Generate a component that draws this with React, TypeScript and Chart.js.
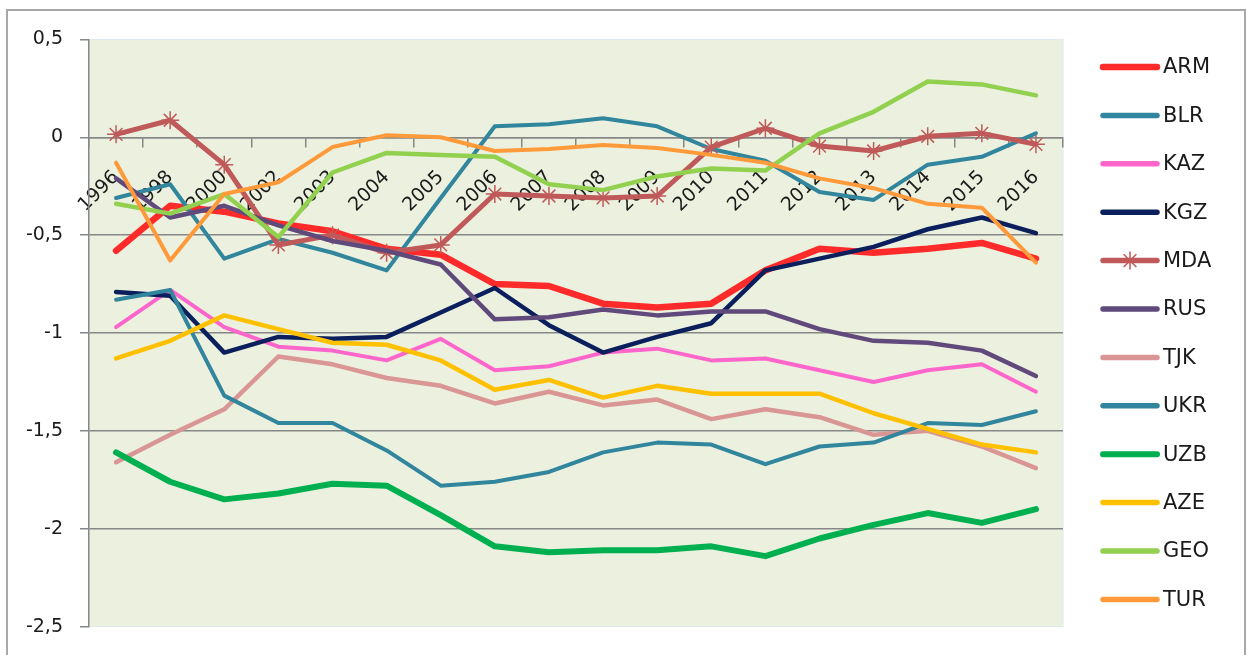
import { useEffect, useRef } from 'react';
import { Chart, registerables } from 'chart.js';

Chart.register(...registerables);

const years = ['1996', '1998', '2000', '2002', '2003', '2004', '2005', '2006', '2007', '2008', '2009', '2010', '2011', '2012', '2013', '2014', '2015', '2016'];

const ARM = [-0.58, -0.35, -0.38, -0.44, -0.48, -0.57, -0.6, -0.75, -0.76, -0.85, -0.87, -0.85, -0.68, -0.57, -0.59, -0.57, -0.54, -0.62];
const BLR = [-0.31, -0.24, -0.62, -0.52, -0.59, -0.68, -0.31, 0.056, 0.066, 0.097, 0.056, -0.06, -0.12, -0.28, -0.32, -0.14, -0.1, 0.02];
const KAZ = [-0.97, -0.78, -0.97, -1.07, -1.09, -1.14, -1.03, -1.19, -1.17, -1.1, -1.08, -1.14, -1.13, -1.19, -1.25, -1.19, -1.16, -1.3];
const KGZ = [-0.79, -0.81, -1.1, -1.02, -1.03, -1.02, -0.895, -0.77, -0.96, -1.1, -1.02, -0.95, -0.68, -0.62, -0.56, -0.47, -0.41, -0.49];
const MDA = [0.015, 0.087, -0.14, -0.55, -0.5, -0.59, -0.55, -0.29, -0.3, -0.31, -0.3, -0.05, 0.046, -0.045, -0.07, 0.005, 0.02, -0.036];
const RUS = [-0.21, -0.41, -0.35, -0.45, -0.53, -0.58, -0.65, -0.93, -0.92, -0.88, -0.91, -0.89, -0.89, -0.98, -1.04, -1.05, -1.09, -1.22];
const TJK = [-1.66, -1.52, -1.39, -1.12, -1.16, -1.23, -1.27, -1.36, -1.3, -1.37, -1.34, -1.44, -1.39, -1.43, -1.52, -1.5, -1.58, -1.69];
const UKR = [-0.83, -0.78, -1.32, -1.46, -1.46, -1.6, -1.78, -1.76, -1.71, -1.61, -1.56, -1.57, -1.67, -1.58, -1.56, -1.46, -1.47, -1.4];
const UZB = [-1.61, -1.76, -1.85, -1.82, -1.77, -1.78, -1.93, -2.09, -2.12, -2.11, -2.11, -2.09, -2.14, -2.05, -1.98, -1.92, -1.97, -1.9];
const AZE = [-1.13, -1.04, -0.91, -0.98, -1.05, -1.06, -1.14, -1.29, -1.24, -1.33, -1.27, -1.31, -1.31, -1.31, -1.41, -1.49, -1.57, -1.61];
const GEO = [-0.34, -0.39, -0.29, -0.51, -0.18, -0.08, -0.09, -0.1, -0.24, -0.27, -0.2, -0.16, -0.17, 0.02, 0.13, 0.285, 0.27, 0.214];
const TUR = [-0.13, -0.63, -0.29, -0.23, -0.05, 0.01, 0.0, -0.07, -0.06, -0.04, -0.055, -0.09, -0.13, -0.21, -0.26, -0.34, -0.36, -0.64];

const seriesNames = ['ARM', 'BLR', 'KAZ', 'KGZ', 'MDA', 'RUS', 'TJK', 'UKR', 'UZB', 'AZE', 'GEO', 'TUR'];
const seriesValues = [ARM, BLR, KAZ, KGZ, MDA, RUS, TJK, UKR, UZB, AZE, GEO, TUR];
const seriesColors = ['#FF2B2B', '#31859C', '#FF66CC', '#0A1F5C', '#C05A5A', '#604A7B', '#D99694', '#31859C', '#00B050', '#FFC000', '#92D050', '#FF9A3A'];
const seriesWidths = [6.5, 4, 4, 4.5, 5, 4.5, 4.5, 4, 6, 4.5, 4.5, 4];

const yTicks = [0.5, 0, -0.5, -1, -1.5, -2, -2.5];

const GRID = '#878787';
const FONT = 'DejaVu Sans';

function drawStar(ctx: CanvasRenderingContext2D, x: number, y: number, r: number) {
  const d = r * Math.SQRT1_2;
  ctx.beginPath();
  ctx.moveTo(x - r, y); ctx.lineTo(x + r, y);
  ctx.moveTo(x, y - r); ctx.lineTo(x, y + r);
  ctx.moveTo(x - d, y - d); ctx.lineTo(x + d, y + d);
  ctx.moveTo(x - d, y + d); ctx.lineTo(x + d, y - d);
  ctx.stroke();
}

const bgPlugin = {
  id: 'plotBg',
  beforeDraw(chart: any) {
    const { ctx, chartArea } = chart;
    ctx.save();
    ctx.fillStyle = '#EBF1DE';
    ctx.fillRect(chartArea.left, chartArea.top, chartArea.right - chartArea.left, chartArea.bottom - chartArea.top);
    ctx.strokeStyle = '#DCE9EE';
    ctx.lineWidth = 1;
    ctx.strokeRect(chartArea.left, chartArea.top, chartArea.right - chartArea.left, chartArea.bottom - chartArea.top);
    ctx.restore();
  },
};

const legendPlugin = {
  id: 'sideLegend',
  afterDraw(chart: any) {
    const ctx = chart.ctx as CanvasRenderingContext2D;
    const x1 = 1095;
    const x2 = 1149;
    const top = 56;
    const step = 48.4;
    chart.data.datasets.forEach((ds: any, i: number) => {
      const y = top + i * step;
      ctx.save();
      ctx.strokeStyle = ds.borderColor;
      ctx.lineWidth = Math.max(5.5, ds.borderWidth);
      ctx.lineCap = 'round';
      ctx.beginPath();
      ctx.moveTo(x1, y);
      ctx.lineTo(x2, y);
      ctx.stroke();
      if (ds.pointStyle === 'star') {
        ctx.lineWidth = 1.5;
        ctx.lineCap = 'butt';
        drawStar(ctx, (x1 + x2) / 2, y, 9);
      }
      ctx.fillStyle = '#1a1a1a';
      ctx.font = `21px "${FONT}"`;
      ctx.textBaseline = 'middle';
      ctx.textAlign = 'left';
      ctx.fillText(ds.label, 1155, y + 1);
      ctx.restore();
    });
  },
};

export default function App() {
  const ref = useRef<HTMLCanvasElement | null>(null);

  useEffect(() => {
    if (!ref.current) return;
    const datasets = seriesNames.map((name, i) => {
      const isStar = name === 'MDA';
      return {
        label: name,
        data: seriesValues[i],
        borderColor: seriesColors[i],
        backgroundColor: seriesColors[i],
        borderWidth: seriesWidths[i],
        borderCapStyle: 'round' as const,
        borderJoinStyle: 'round' as const,
        tension: 0,
        fill: false,
        pointStyle: isStar ? 'star' : 'circle',
        pointRadius: isStar ? 9 : 0,
        pointBorderWidth: isStar ? 1.5 : 0,
        pointBorderColor: seriesColors[i],
        pointHoverRadius: 0,
        order: seriesNames.length - i,
      };
    });

    const chart = new Chart(ref.current, {
      type: 'line',
      data: { labels: years, datasets },
      options: {
        responsive: false,
        animation: false,
        devicePixelRatio: 1,
        layout: { padding: { left: 0, top: 27, right: 181, bottom: 27 } },
        plugins: {
          legend: { display: false },
          tooltip: { enabled: false },
        },
        scales: {
          x: {
            type: 'category',
            position: { y: 0 } as any,
            offset: true,
            grid: {
              display: true,
              drawOnChartArea: false,
              drawTicks: true,
              tickLength: 9,
              color: GRID,
              lineWidth: 1.5,
              offset: true,
            },
            border: { display: true, color: GRID, width: 1.5 },
            ticks: {
              autoSkip: false,
              minRotation: 45,
              maxRotation: 45,
              padding: 20,
              color: '#1a1a1a',
              font: { family: FONT, size: 19 },
            },
          },
          y: {
            type: 'linear',
            position: 'left',
            min: -2.5,
            max: 0.5,
            afterBuildTicks: (scale: any) => {
              scale.ticks = yTicks.map((v) => ({ value: v }));
            },
            afterFit: (scale: any) => {
              scale.width = 81;
            },
            grid: {
              color: (c: any) => (c.tick && (c.tick.value === 0.5 || c.tick.value === -2.5) ? 'rgba(0,0,0,0)' : GRID),
              tickColor: GRID,
              lineWidth: 1.5,
              tickLength: 9,
              drawTicks: true,
            },
            border: { display: true, color: GRID, width: 1.5 },
            ticks: {
              padding: 17,
              color: '#1a1a1a',
              font: { family: FONT, size: 19 },
              callback: (v: any) => String(Math.round(Number(v) * 10) / 10).replace('.', ','),
            },
          },
        },
      },
      plugins: [bgPlugin, legendPlugin],
    });
    return () => chart.destroy();
  }, []);

  return (
    <div
      style={{
        position: 'absolute',
        left: 6,
        top: 9,
        width: 1240,
        height: 646,
        borderTop: '2px solid #A8A8A8',
        borderLeft: '2px solid #A8A8A8',
        borderRight: '2px solid #A8A8A8',
        boxSizing: 'border-box',
        background: '#fff',
        overflow: 'hidden',
      }}
    >
      <canvas ref={ref} width={1236} height={644} style={{ display: 'block' }} />
    </div>
  );
}
